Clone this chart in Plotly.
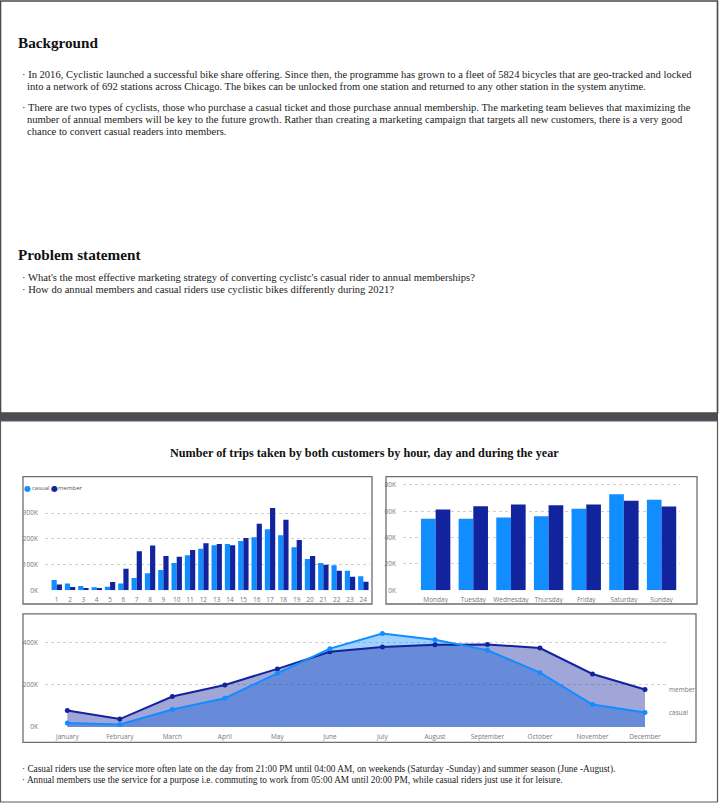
import plotly.graph_objects as go

# ---------------- data ----------------
hours = [str(h) for h in range(1, 25)]
hourly_casual = [40000, 27000, 17000, 12000, 14000, 27000, 48000, 66000, 79000, 106000, 136000, 162000,
                 175000, 180000, 192000, 206000, 237000, 214000, 167000, 122000, 106000, 97000, 76000, 55000]
hourly_member = [23000, 13000, 9000, 9000, 32000, 84000, 152000, 174000, 133000, 130000, 157000, 183000,
                 180000, 175000, 203000, 259000, 320000, 274000, 196000, 133000, 99000, 76000, 53000, 33000]

days = ["Monday", "Tuesday", "Wednesday", "Thursday", "Friday", "Saturday", "Sunday"]
daily_casual = [54400, 54300, 55300, 56300, 62000, 73000, 68800]
daily_member = [61400, 63800, 65200, 64500, 65200, 67900, 63700]

months = ["January", "February", "March", "April", "May", "June", "July",
          "August", "September", "October", "November", "December"]
monthly_casual = [19000, 12000, 83000, 137000, 255000, 372000, 444000, 414000, 365000, 258000, 107000, 69000]
monthly_member = [79000, 38000, 145000, 200000, 276000, 357000, 380000, 391000, 392000, 375000, 252000, 178000]

hour_ticks = [0, 100000, 200000, 300000]
hour_ticktext = ["0K", "100K", "200K", "300K"]
day_ticks = [0, 20000, 40000, 60000, 80000]
day_ticktext = ["0K", "20K", "40K", "60K", "80K"]
month_ticks = [0, 200000, 400000]
month_ticktext = ["0K", "200K", "400K"]

title_text = "Number of trips taken by both customers by hour, day and during the year"
background_lines = [
    "· In 2016, Cyclistic launched a successful bike share offering. Since then, the programme has grown to a fleet of 5824 bicycles that are geo-tracked and locked",
    "into a network of 692 stations across Chicago. The bikes can be unlocked from one station and returned to any other station in the system anytime.",
    "· There are two types of cyclists, those who purchase a casual ticket and those purchase annual membership. The marketing team believes that maximizing the",
    "number of annual members will be key to the future growth. Rather than creating a marketing campaign that targets all new customers, there is a very good",
    "chance to convert casual readers into members.",
]
problem_lines = [
    "· What's the most effective marketing strategy of converting cyclistc's casual rider to annual memberships?",
    "· How do annual members and casual riders use cyclistic bikes differently during 2021?",
]
insight_lines = [
    "· Casual riders use the service more often late on the day from 21:00 PM until 04:00 AM, on weekends (Saturday -Sunday) and summer season (June -August).",
    "· Annual members use the service for a purpose i.e. commuting to work from 05:00 AM until 20:00 PM, while casual riders just use it for leisure.",
]

# ---------------- styling ----------------
W, H = 720, 804
C_CASUAL = "#118DFF"
C_MEMBER = "#12239E"
SERIF = "Liberation Serif"
SANS = "Open Sans"
TICK_FONT = dict(family=SANS, size=6.5, color="#777777")


def px(x):
    return x / W


def py(y):
    return 1 - y / H


fig = go.Figure()

# hourly bars
fig.add_trace(go.Bar(x=hours, y=hourly_casual, name="casual", marker_color=C_CASUAL,
                     marker_line_width=0, xaxis="x", yaxis="y", showlegend=False))
fig.add_trace(go.Bar(x=hours, y=hourly_member, name="member", marker_color=C_MEMBER,
                     marker_line_width=0, xaxis="x", yaxis="y", showlegend=False))
# daily bars
fig.add_trace(go.Bar(x=days, y=daily_casual, name="casual", marker_color=C_CASUAL,
                     marker_line_width=0, xaxis="x2", yaxis="y2", showlegend=False))
fig.add_trace(go.Bar(x=days, y=daily_member, name="member", marker_color=C_MEMBER,
                     marker_line_width=0, xaxis="x2", yaxis="y2", showlegend=False))
# monthly areas (fills first, lines on top)
fig.add_trace(go.Scatter(x=months, y=monthly_casual, name="casual", mode="none",
                         fill="tozeroy", fillcolor="rgba(17,141,255,0.4)",
                         xaxis="x3", yaxis="y3", showlegend=False))
fig.add_trace(go.Scatter(x=months, y=monthly_member, name="member", mode="none",
                         fill="tozeroy", fillcolor="rgba(18,35,158,0.4)",
                         xaxis="x3", yaxis="y3", showlegend=False))
fig.add_trace(go.Scatter(x=months, y=monthly_member, name="member", mode="lines+markers",
                         line=dict(color=C_MEMBER, width=2), marker=dict(size=5, color=C_MEMBER),
                         xaxis="x3", yaxis="y3", showlegend=False))
fig.add_trace(go.Scatter(x=months, y=monthly_casual, name="casual", mode="lines+markers",
                         line=dict(color=C_CASUAL, width=2), marker=dict(size=5, color=C_CASUAL),
                         xaxis="x3", yaxis="y3", showlegend=False))

grid = dict(showgrid=True, gridcolor="#cfcfcf", griddash="dot", gridwidth=1, zeroline=False,
            showline=False, tickfont=TICK_FONT, ticks="", ticklabelstandoff=6)
xcat = dict(showgrid=False, zeroline=False, showline=False, tickfont=TICK_FONT, ticks="",
            type="category", tickangle=0, ticklabelstandoff=4)

fig.update_layout(
    width=W, height=H, margin=dict(l=0, r=0, t=0, b=0),
    paper_bgcolor="white", plot_bgcolor="rgba(0,0,0,0)",
    barmode="group", bargap=0.22, bargroupgap=0,
    xaxis=dict(domain=[px(45), px(370)], range=[-0.88, 23.5], anchor="y", **xcat),
    yaxis=dict(domain=[py(593.3), py(507.9)], range=[0, 330000], anchor="x",
               tickvals=hour_ticks, ticktext=hour_ticktext, **grid),
    xaxis2=dict(domain=[px(403), px(680)], range=[-0.867, 6.49], anchor="y2", **xcat),
    yaxis2=dict(domain=[py(593.3), py(480.7)], range=[0, 85000], anchor="x2",
                tickvals=day_ticks, ticktext=day_ticktext, **grid),
    xaxis3=dict(domain=[px(45), px(666)], range=[-0.425, 11.4], anchor="y3", **xcat),
    yaxis3=dict(domain=[py(730.7), py(625)], range=[0, 499000], anchor="x3",
                tickvals=month_ticks, ticktext=month_ticktext, **grid),
)

shapes = []
# top panel
shapes.append(dict(type="rect", xref="paper", yref="paper", x0=px(0.5), x1=px(717.5), y0=py(415), y1=py(1),
                   line=dict(color="#4a4a4a", width=1.6), fillcolor="rgba(0,0,0,0)", layer="above"))
# dark separator band
shapes.append(dict(type="rect", xref="paper", yref="paper", x0=0, x1=px(718), y0=py(423), y1=py(415),
                   line=dict(width=0), fillcolor="#4b4d52", layer="above"))
# bottom panel sides
shapes.append(dict(type="rect", xref="paper", yref="paper", x0=px(0.5), x1=px(717.5), y0=py(806), y1=py(423),
                   line=dict(color="#5a5a5a", width=1.2), fillcolor="rgba(0,0,0,0)", layer="above"))
# chart boxes
for (x0, x1, y0, y1) in [(23, 372, 479, 607), (386, 697, 479, 607), (23, 696, 617, 746)]:
    shapes.append(dict(type="rect", xref="paper", yref="paper", x0=px(x0), x1=px(x1), y0=py(y1), y1=py(y0),
                       line=dict(color="#6e6e6e", width=1.3), fillcolor="rgba(0,0,0,0)", layer="above"))
fig.update_layout(shapes=shapes)

ann = []


def text(x, y, s, size, bold=False, family=SERIF, color="#222222", xanchor="left"):
    if bold:
        s = "<b>" + s + "</b>"
    ann.append(dict(x=px(x), y=py(y), xref="paper", yref="paper", text=s, showarrow=False,
                    xanchor=xanchor, yanchor="middle", font=dict(family=family, size=size, color=color)))


text(16, 43, "Background", 15.2, bold=True, color="#111111")
for (x, y), s in zip([(20, 75), (25, 87), (20, 108), (25, 120), (25, 132)], background_lines):
    text(x, y, s, 10.55)
text(16, 256, "Problem statement", 15.2, bold=True, color="#111111")
for y, s in zip([279, 291], problem_lines):
    text(20, y, s, 10.6)
text(364, 455, title_text, 12.2, bold=True, xanchor="center", color="#111111")
for y, s in zip([773, 784], insight_lines):
    text(20, y, s, 9.3)

# legend of the hourly chart (dots + labels)
for x, col in [(27.5, C_CASUAL), (54, C_MEMBER)]:
    ann.append(dict(x=px(x), y=py(490.5), xref="paper", yref="paper", showarrow=False, xanchor="center",
                    yanchor="middle", text="●", font=dict(family="DejaVu Sans", size=8, color=col)))
for x, s in [(29.5, "casual"), (56, "member")]:
    ann.append(dict(x=px(x), y=py(490), xref="paper", yref="paper", showarrow=False, xanchor="left",
                    yanchor="middle", text=s, font=dict(family=SANS, size=6, color="#555555")))
# end labels of the area chart
ann.append(dict(x=months[-1], y=monthly_member[-1], xref="x3", yref="y3", showarrow=False,
                xanchor="left", yanchor="middle", xshift=22, text="member",
                font=dict(family=SANS, size=6.5, color="#777777")))
ann.append(dict(x=months[-1], y=monthly_casual[-1], xref="x3", yref="y3", showarrow=False,
                xanchor="left", yanchor="middle", xshift=22, text="casual",
                font=dict(family=SANS, size=6.5, color="#777777")))
fig.update_layout(annotations=ann)

fig.write_html("out.html", config={"displayModeBar": False},
               post_script="document.body.style.margin='0';")
